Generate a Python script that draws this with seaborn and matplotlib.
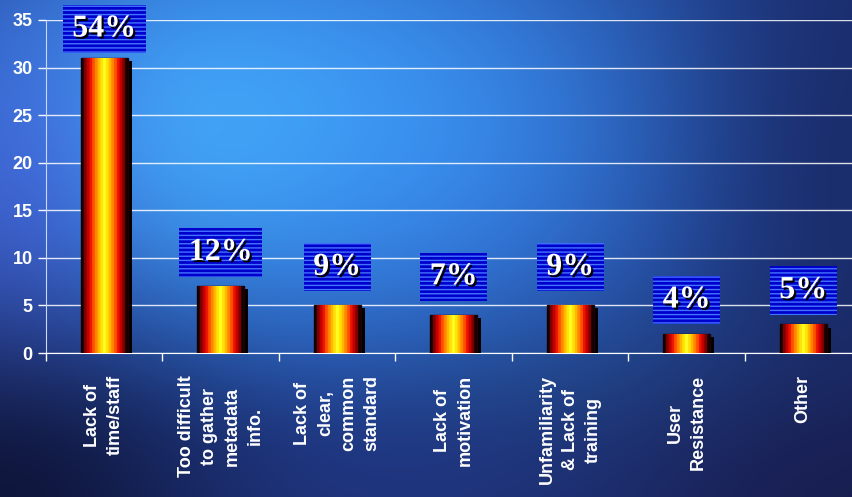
import numpy as np
import pandas as pd
import matplotlib
matplotlib.use("Agg")
import matplotlib.pyplot as plt
import matplotlib.patheffects as pe
from matplotlib.colors import LinearSegmentedColormap, to_rgb
import seaborn as sns

# data
categories = ["Lack of\ntime/staff", "Too difficult\nto gather\nmetadata\ninfo.",
              "Lack of\nclear,\ncommon\nstandard", "Lack of\nmotivation",
              "Unfamiliarity\n& Lack of\ntraining", "User\nResistance", "Other"]
counts = [31, 7, 5, 4, 5, 2, 3]
pct_labels = ["54%", "12%", "9%", "7%", "9%", "4%", "5%"]
y_ticks = [0, 5, 10, 15, 20, 25, 30, 35]

# the percentage boxes were placed by hand in the original
label_lift = [10.5, 14, 17, 17, 17, 14, 14]

W, H = 853, 497
fig = plt.figure(figsize=(W / 100, H / 100), dpi=100)

# background: blue glow on dark navy
yy, xx = np.mgrid[0:H, 0:W]
img = np.ones((H, W, 3)) * np.array(to_rgb("#1a2565"))
def blob(img, cx, cy, rx, ry, col, a=1.0):
    w = np.exp(-(((xx - cx) / rx) ** 2 + ((yy - cy) / ry) ** 2))[..., None] * a
    return img * (1 - w) + np.array(to_rgb(col)) * w
img = blob(img, 320, 150, 540, 300, "#2e6ad4", 1.0)
img = blob(img, 280, 110, 330, 200, "#3c98f4", 0.95)
img = blob(img, 190, 130, 150, 120, "#48b2fa", 0.5)
img = blob(img, 20, 200, 100, 200, "#4c58d8", 0.5)
img = blob(img, 853, 160, 180, 320, "#17245c", 0.7)
img = blob(img, 560, 400, 200, 80, "#22528a", 0.4)
img = blob(img, 430, 450, 420, 70, "#1e2c78", 0.4)
img = blob(img, 0, 497, 220, 170, "#0b0f2c", 0.8)
img = blob(img, 853, 497, 260, 140, "#17173f", 0.6)
bg = fig.add_axes([0, 0, 1, 1], zorder=-10)
bg.imshow(np.clip(img, 0, 1), aspect="auto", extent=[0, 1, 0, 1])
bg.axis("off")

ax = fig.add_axes([46 / W, (H - 353) / H, 7 * 116.5 / W, 333 / H])
ax.set_facecolor("none")

df = pd.DataFrame({"cat": categories, "n": counts})
sns.barplot(data=df, x="cat", y="n", ax=ax, color="black", saturation=1,
            width=0.4, edgecolor="#200000", linewidth=1, zorder=3)

# cylinder-like red/yellow bands
cmap = LinearSegmentedColormap.from_list(
    "bar", ["#150000", "#a00000", "#e80000", "#ff5000", "#ff9a00", "#ffd800", "#ffff20",
            "#ffd800", "#ff9a00", "#ff5000", "#e80000", "#a00000", "#150000"], N=17)
grad = np.linspace(0, 1, 200)[None, :]
for p in list(ax.patches):
    p.set_path_effects([pe.SimplePatchShadow(offset=(3, -2.2), shadow_rgbFace="black", alpha=1),
                        pe.Normal()])
    x0, w, h = p.get_x(), p.get_width(), p.get_height()
    im = ax.imshow(grad, extent=[x0, x0 + w, 0, h], aspect="auto", cmap=cmap, zorder=3.5)
    im.set_clip_path(p)

ax.set_xlim(-0.5, 6.5)
ax.set_ylim(0, 35)
ax.set_yticks(y_ticks)
ax.set_xticks(range(len(categories)))
ax.set_xticks(np.arange(-0.5, 7, 1), minor=True)
ax.set_xticklabels(categories, rotation=90, ha="center", va="top", multialignment="center",
                   fontsize=13, fontweight="bold", color="white", family="Liberation Sans",
                   linespacing=1.45)
ax.tick_params(axis="x", which="major", length=0, pad=16)
ax.tick_params(axis="x", which="minor", length=6, color="white", width=1)
ax.tick_params(axis="y", length=6, color="white", width=1, labelcolor="white", labelsize=13)
for t in ax.get_yticklabels():
    t.set_fontweight("bold")
    t.set_family("Liberation Sans")
ax.set_xlabel("")
ax.set_ylabel("")
ax.grid(axis="y", color="white", lw=1, alpha=0.85, zorder=1)
ax.set_axisbelow(True)
for s in ["top", "right"]:
    ax.spines[s].set_visible(False)
ax.spines["left"].set_color("#c8d8ff")
ax.spines["bottom"].set_color("white")

plt.rcParams["hatch.linewidth"] = 1.0
for i, (v, lbl) in enumerate(zip(counts, pct_labels)):
    ax.annotate(lbl, xy=(i, v), xytext=(0, label_lift[i]), textcoords="offset points",
                ha="center", va="bottom", fontsize=23, fontweight="bold",
                family="Liberation Serif", color="white", zorder=6, annotation_clip=False,
                bbox=dict(boxstyle="square,pad=0.3", fc="#0000cc", ec="#4274ff", lw=0,
                          hatch="----"),
                path_effects=[pe.withSimplePatchShadow(offset=(1.5, -1.5),
                                                       shadow_rgbFace="black", alpha=1)])

fig.savefig("out.png", dpi=100)
